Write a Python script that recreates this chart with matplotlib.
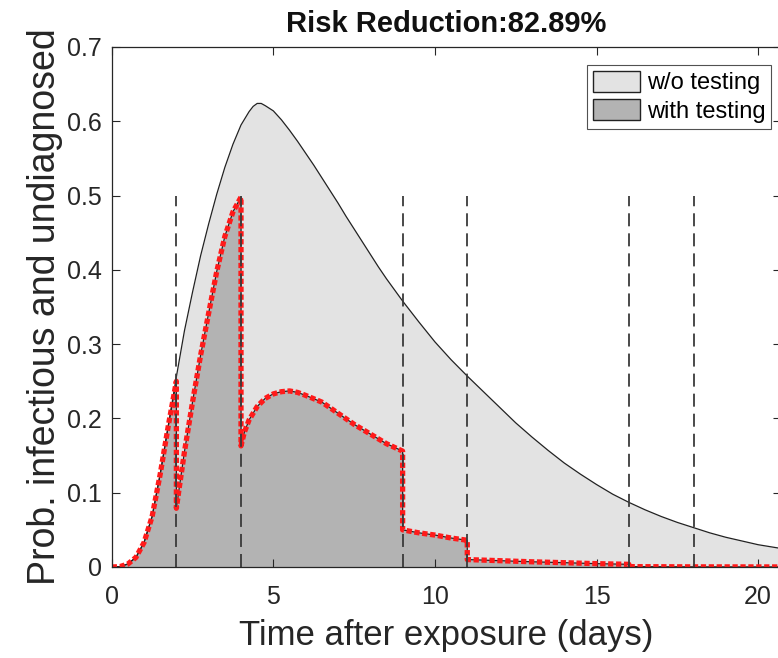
import matplotlib
matplotlib.use("Agg")
import matplotlib.pyplot as plt
from matplotlib.patches import Patch

plt.rcParams['font.family'] = ['Liberation Sans', 'DejaVu Sans']

# w/o testing curve (days, probability)
days_base = [0, 0.25, 0.5, 0.75, 1.0, 1.25, 1.5, 1.75, 2.0, 2.25, 2.5, 2.75, 3.0,
             3.25, 3.5, 3.75, 4.0, 4.25, 4.375, 4.5, 4.625, 4.75, 5.0, 5.25, 5.5,
             5.75, 6.0, 6.25, 6.5, 6.75, 7.0, 7.25, 7.5, 7.75, 8.0, 8.25, 8.5,
             8.75, 9.0, 9.5, 10.0, 10.5, 11.0, 11.5, 12.0, 12.5, 13.0, 13.5,
             14.0, 14.5, 15.0, 15.5, 16.0, 16.5, 17.0, 17.5, 18.0, 18.5, 19.0,
             19.5, 20.0, 20.7]
prob_base = [0, 0.0005, 0.004, 0.013, 0.033, 0.068, 0.125, 0.19, 0.256, 0.318,
             0.37, 0.419, 0.462, 0.502, 0.538, 0.569, 0.595, 0.613, 0.620,
             0.624, 0.624, 0.621, 0.614, 0.602, 0.588, 0.573, 0.557, 0.541,
             0.524, 0.507, 0.490, 0.472, 0.455, 0.438, 0.421, 0.404, 0.388,
             0.373, 0.358, 0.330, 0.303, 0.279, 0.257, 0.236, 0.215, 0.194,
             0.175, 0.157, 0.140, 0.125, 0.111, 0.098, 0.087, 0.077, 0.068,
             0.060, 0.053, 0.046, 0.040, 0.035, 0.030, 0.025]

# with testing curve (days, probability)
days_test = [0, 0.25, 0.5, 0.75, 1.0, 1.25, 1.5, 1.75, 2.0, 2.0, 2.1, 2.25, 2.5,
             2.75, 3.0, 3.25, 3.5, 3.75, 4.0, 4.0, 4.1, 4.25, 4.5, 4.75, 5.0,
             5.25, 5.5, 5.75, 6.0, 6.5, 7.0, 7.5, 8.0, 8.5, 9.0, 9.0, 9.5, 10.0,
             10.5, 11.0, 11.0, 12.0, 13.0, 14.0, 15.0, 16.0, 16.0, 18.0, 20.7]
prob_test = [0, 0.0005, 0.004, 0.013, 0.033, 0.068, 0.125, 0.19, 0.25, 0.079,
             0.11, 0.155, 0.222, 0.285, 0.342, 0.398, 0.445, 0.478, 0.498, 0.163,
             0.181, 0.198, 0.216, 0.227, 0.233, 0.236, 0.237, 0.235, 0.231,
             0.222, 0.207, 0.192, 0.179, 0.166, 0.156, 0.050, 0.046, 0.043,
             0.039, 0.036, 0.010, 0.0085, 0.007, 0.0058, 0.0045, 0.0036, 0.0005,
             0.0002, 0.0001]

test_days = [2, 4, 9, 11, 16, 18]
title_text = "Risk Reduction:82.89%"
legend_labels = ["w/o testing", "with testing"]

fig = plt.figure(figsize=(7.78, 6.58), dpi=100)
ax = fig.add_axes([0.1436, 0.1383, 0.8600, 0.7903])

ax.fill_between(days_base, prob_base, color='#e3e3e3', lw=0)
ax.plot(days_base, prob_base, color='#222222', lw=0.9)
ax.fill_between(days_test, prob_test, color='#b3b3b3', lw=0)
ax.plot(days_test, prob_test, color='#222222', lw=0.9)
ax.plot(days_test, prob_test, color='#ff1a1a', lw=3.8, dashes=(1.0, 0.5))

for d in test_days:
    ax.plot([d, d], [0, 0.5], color='#3a3a3a', lw=1.3, dashes=(7.2, 3.9))

ax.set_xlim(0, 20.7)
ax.set_ylim(0, 0.7)
ax.set_xticks([0, 5, 10, 15, 20])
ax.set_yticks([0, 0.1, 0.2, 0.3, 0.4, 0.5, 0.6, 0.7])
ax.set_yticklabels(['0', '0.1', '0.2', '0.3', '0.4', '0.5', '0.6', '0.7'])
ax.tick_params(direction='in', top=True, right=True, labelsize=18,
               length=6, width=0.8, colors='#262626')
ax.tick_params(axis='x', pad=13)
ax.tick_params(axis='y', pad=7)
for s in ax.spines.values():
    s.set_color('#262626')
    s.set_linewidth(0.9)

ax.set_xlabel("Time after exposure (days)", fontsize=25, color='#262626', labelpad=7)
ax.set_ylabel("Prob. infectious and undiagnosed", fontsize=27, color='#262626', labelpad=3)
ax.set_title(title_text, fontsize=21, fontweight='bold', color='#111111', pad=11)

handles = [Patch(facecolor='#e3e3e3', edgecolor='#222222', lw=1),
           Patch(facecolor='#b3b3b3', edgecolor='#222222', lw=1)]
leg = ax.legend(handles, legend_labels, loc='upper right',
                bbox_to_anchor=(0.993, 0.975), fontsize=17, frameon=True,
                fancybox=False, edgecolor='#262626', handlelength=2.0,
                handleheight=1.0, handletextpad=0.3, borderpad=0.25,
                labelspacing=0.2, borderaxespad=0.2)
leg.get_frame().set_linewidth(0.8)

fig.savefig("out.png", dpi=100)
